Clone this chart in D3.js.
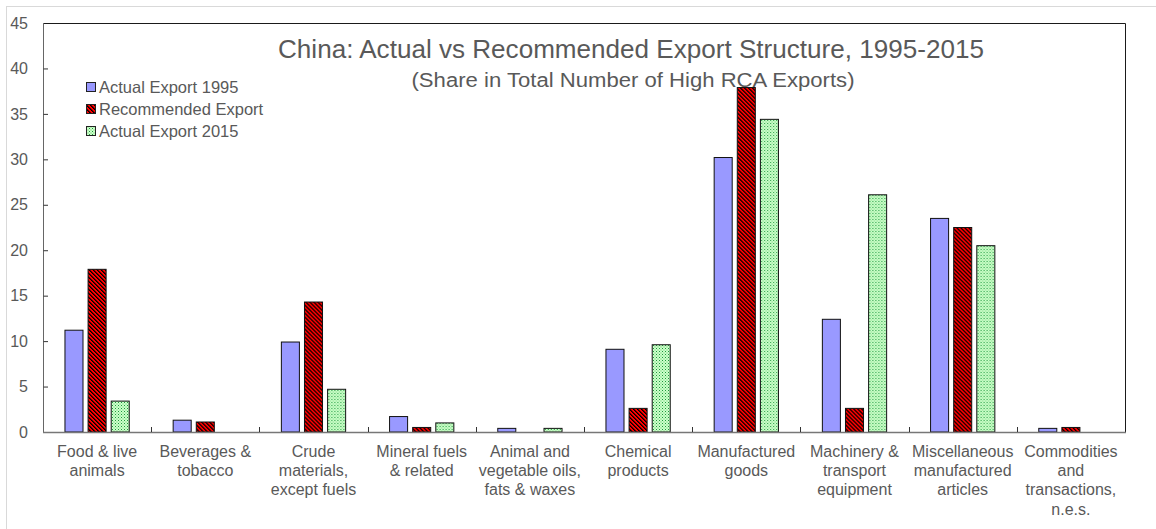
<!DOCTYPE html>
<html>
<head>
<meta charset="utf-8">
<script src="https://cdn.jsdelivr.net/npm/d3@7"></script>
<style>
  html, body { margin: 0; padding: 0; background: #fff; }
  svg { display: block; font-family: "Liberation Sans", Arial, sans-serif; }
</style>
</head>
<body>
<svg id="chart" width="1156" height="529"></svg>
<script>
// Export categories (SITC sections), split over lines for the axis
const categories = [
  ["Food & live", "animals"],
  ["Beverages &", "tobacco"],
  ["Crude", "materials,", "except fuels"],
  ["Mineral fuels", "& related"],
  ["Animal and", "vegetable oils,", "fats & waxes"],
  ["Chemical", "products"],
  ["Manufactured", "goods"],
  ["Machinery &", "transport", "equipment"],
  ["Miscellaneous", "manufactured", "articles"],
  ["Commodities", "and", "transactions,", "n.e.s."]
];

const seriesNames = ["Actual Export 1995", "Recommended Export", "Actual Export 2015"];

// Share in total number of high-RCA exports (%)
const actual1995  = [11.2, 1.3, 9.9, 1.7, 0.4, 9.1, 30.2, 12.4, 23.5, 0.4];
const recommended = [17.9, 1.1, 14.3, 0.5, 0.0, 2.6, 37.9, 2.6, 22.5, 0.5];
const actual2015  = [3.4, 0.0, 4.7, 1.0, 0.4, 9.6, 34.4, 26.1, 20.5, 0.0];

const yTicks = [0, 5, 10, 15, 20, 25, 30, 35, 40, 45];

const series = [actual1995, recommended, actual2015];

const svg = d3.select("#chart");
const textColor = "#595959";

// Bar fills: solid lavender, red with black downward-diagonal hatching, pale green with dots
const defs = svg.append("defs");
const hatch = defs.append("pattern")
  .attr("id", "hatchRed").attr("patternUnits", "userSpaceOnUse")
  .attr("width", 4).attr("height", 4);
hatch.append("rect").attr("width", 4).attr("height", 4).attr("fill", "#ff0000");
d3.range(4).forEach(i => {
  hatch.append("rect").attr("x", i).attr("y", i).attr("width", 1).attr("height", 1).attr("fill", "#000");
  hatch.append("rect").attr("x", (i + 1) % 4).attr("y", i).attr("width", 1).attr("height", 1).attr("fill", "#5a0000");
});

const dots = defs.append("pattern")
  .attr("id", "dotsGreen").attr("patternUnits", "userSpaceOnUse")
  .attr("width", 3).attr("height", 3);
dots.append("rect").attr("width", 3).attr("height", 3).attr("fill", "#ccffcc");
dots.append("rect").attr("x", 0).attr("y", 0).attr("width", 1).attr("height", 1).attr("fill", "#1f9a3a");
dots.append("rect").attr("x", 1.5).attr("y", 1.5).attr("width", 1).attr("height", 1).attr("fill", "#5cc45c");

const fills = ["#9999ff", "url(#hatchRed)", "url(#dotsGreen)"];

// Outer light frame
svg.append("rect")
  .attr("x", 6.5).attr("y", 6.5).attr("width", 1160).attr("height", 540)
  .attr("fill", "none").attr("stroke", "#d9d9d9").attr("stroke-width", 1);

const plot = { left: 43, right: 1125, top: 23, bottom: 432 };

const x = d3.scaleBand()
  .domain(d3.range(categories.length))
  .range([plot.left, plot.right])
  .paddingInner(0).paddingOuter(0);

const xInner = d3.scaleBand()
  .domain(d3.range(series.length))
  .range([0, x.bandwidth()])
  .paddingInner(0.22).paddingOuter(0.95);

const y = d3.scaleLinear().domain([0, 45]).range([plot.bottom, plot.top]);

// Plot frame (top and right edges)
svg.append("path")
  .attr("d", `M${plot.left},${plot.top + 0.5} H${plot.right + 0.5} V${plot.bottom}`)
  .attr("fill", "none").attr("stroke", "#1a1a1a").attr("stroke-width", 1);

// Bars
const groups = svg.append("g").selectAll("g")
  .data(categories)
  .join("g")
  .attr("transform", (d, i) => `translate(${x(i)},0)`);

groups.selectAll("rect")
  .data((d, i) => series.map((s, k) => ({ k, v: s[i] })).filter(e => e.v > 0))
  .join("rect")
  .attr("x", e => xInner(e.k))
  .attr("width", xInner.bandwidth())
  .attr("y", e => y(e.v))
  .attr("height", e => y(0) - y(e.v))
  .attr("fill", e => fills[e.k])
  .attr("stroke", "#111")
  .attr("stroke-width", 1);

// Y axis with inward ticks
const yAxis = svg.append("g")
  .attr("transform", `translate(${plot.left},0)`)
  .call(d3.axisRight(y).tickValues(yTicks).tickSize(5).tickFormat(d3.format("d")));
yAxis.select(".domain").attr("stroke", "#666").attr("d", `M0.5,${plot.top}V${plot.bottom}`);
yAxis.selectAll(".tick line").attr("stroke", "#333").attr("x1", 0.5);
yAxis.selectAll(".tick text")
  .attr("x", -15).attr("text-anchor", "end")
  .attr("fill", textColor).style("font-size", "16px")
  .style("font-family", "'Liberation Sans', Arial, sans-serif");
yAxis.selectAll(".tick").filter(d => d === 45).select("line").remove();

// X axis baseline
svg.append("line")
  .attr("x1", plot.left).attr("x2", plot.right + 1)
  .attr("y1", plot.bottom + 0.5).attr("y2", plot.bottom + 0.5)
  .attr("stroke", "#777").attr("stroke-width", 1.5);

// Category boundary ticks pointing up
svg.append("g").selectAll("line")
  .data(d3.range(1, categories.length))
  .join("line")
  .attr("x1", i => Math.round(x(i)) + 0.5).attr("x2", i => Math.round(x(i)) + 0.5)
  .attr("y1", plot.bottom).attr("y2", plot.bottom - 5)
  .attr("stroke", "#333");

// Category labels
const labels = svg.append("g").selectAll("text")
  .data(categories)
  .join("text")
  .attr("text-anchor", "middle")
  .attr("fill", textColor)
  .style("font-size", "16px")
  .attr("x", (d, i) => x(i) + x.bandwidth() / 2)
  .attr("y", 457);
labels.selectAll("tspan")
  .data(d => d)
  .join("tspan")
  .attr("x", function () { return d3.select(this.parentNode).attr("x"); })
  .attr("dy", (d, j) => j === 0 ? 0 : 19.2)
  .text(d => d);

// Titles
svg.append("text")
  .attr("x", 631).attr("y", 58)
  .attr("text-anchor", "middle").attr("fill", textColor)
  .style("font-size", "25px")
  .attr("textLength", 706).attr("lengthAdjust", "spacingAndGlyphs")
  .text("China: Actual vs Recommended Export Structure, 1995-2015");
svg.append("text")
  .attr("x", 633).attr("y", 87)
  .attr("text-anchor", "middle").attr("fill", textColor)
  .style("font-size", "20px")
  .attr("textLength", 443).attr("lengthAdjust", "spacingAndGlyphs")
  .text("(Share in Total Number of High RCA Exports)");

// Legend
const legend = svg.append("g").selectAll("g")
  .data(seriesNames)
  .join("g")
  .attr("transform", (d, i) => `translate(86,${87 + i * 22})`);
legend.append("rect")
  .attr("x", 0.5).attr("y", -4.5).attr("width", 9).attr("height", 9)
  .attr("fill", (d, i) => fills[i]).attr("stroke", "#222");
legend.append("text")
  .attr("x", 13).attr("y", 6)
  .attr("fill", textColor).style("font-size", "16.5px")
  .text(d => d);
</script>
</body>
</html>
